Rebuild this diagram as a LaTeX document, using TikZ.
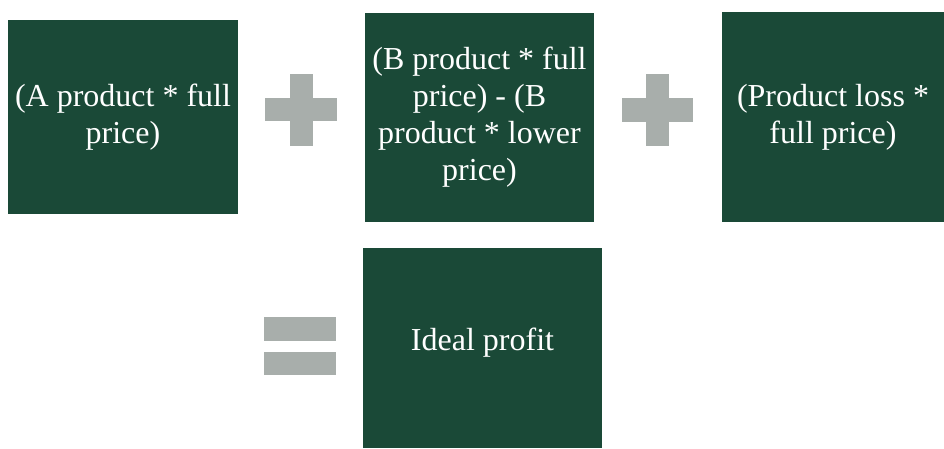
\documentclass[tikz,border=0pt]{standalone}
\usepackage{fontspec}
\setmainfont{Liberation Serif}
\definecolor{boxgreen}{HTML}{1A4937}
\definecolor{signgray}{HTML}{A8AEAB}
\begin{document}
\begin{tikzpicture}[x=1pt,y=-1pt,
  gbox/.style={fill=boxgreen,draw=none,text=white,font=\fontsize{32}{37}\selectfont,align=center,inner sep=0pt},
  gbar/.style={fill=signgray,draw=none}]
\useasboundingbox (0,0) rectangle (944,448);
% boxes
\path[gbox] (8,20) rectangle (238,214);
\node[gbox] (a) at (123,117) {(A product * full\\price)};
\path[gbox] (365,13) rectangle (594,222);
\node[gbox] (b) at (479.5,117.5) {(B product * full\\price) - (B\\product * lower\\price)};
\path[gbox] (722,12) rectangle (944,222);
\node[gbox] (c) at (833,117) {(Product loss *\\full price)};
\path[gbox] (363,248) rectangle (602,448);
\node[gbox] (d) at (482.5,343) {Ideal profit};
% plus signs
\fill[gbar] (265,98) rectangle (337,121);
\fill[gbar] (290,74) rectangle (313,146);
\fill[gbar] (622,98) rectangle (693,122);
\fill[gbar] (646,74) rectangle (669,146);
% equals sign
\fill[gbar] (264,317) rectangle (336,341);
\fill[gbar] (264,352) rectangle (336,375);
\end{tikzpicture}
\end{document}
